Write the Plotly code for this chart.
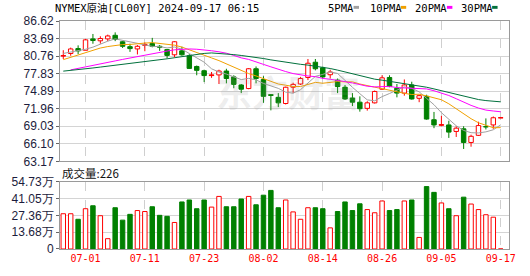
import plotly.graph_objects as go

# ---------------- data ----------------
dates = [
    "06-26", "06-27", "06-28",
    "07-01", "07-02", "07-03", "07-04", "07-05", "07-08", "07-09", "07-10", "07-11",
    "07-12", "07-15", "07-16", "07-17", "07-18", "07-19", "07-22", "07-23", "07-24",
    "07-25", "07-26", "07-29", "07-30", "07-31",
    "08-01", "08-02", "08-05", "08-06", "08-07", "08-08", "08-09", "08-12", "08-13",
    "08-14", "08-15", "08-16", "08-19", "08-20", "08-21", "08-22", "08-23", "08-26",
    "08-27", "08-28", "08-29", "08-30",
    "09-02", "09-03", "09-04", "09-05", "09-06", "09-09", "09-10", "09-11", "09-12",
    "09-13", "09-16", "09-17",
]
open_ = [80.78, 81.19, 82.01, 81.73, 83.63, 83.31, 83.63, 84.23, 83.15, 82.33,
         81.95, 82.55, 82.87, 82.39, 81.84, 80.97, 81.63, 80.81, 79.02, 78.31,
         77.50, 77.61, 78.26, 77.28, 75.93, 75.33, 78.64, 76.85, 74.30, 73.86,
         72.83, 75.55, 76.09, 77.18, 79.73, 78.80, 77.64, 76.74, 75.55, 73.75,
         73.05, 72.02, 72.94, 75.22, 77.18, 75.38, 74.57, 75.93, 73.70, 74.03,
         70.12, 69.20, 69.25, 68.16, 68.60, 66.32, 67.51, 68.95, 69.25, 70.45]
high = [81.74, 82.17, 82.55, 83.63, 84.45, 84.07, 84.34, 84.72, 83.25, 82.82,
        82.60, 83.04, 83.80, 82.60, 81.95, 83.25, 82.33, 81.08, 79.18, 78.48,
        78.10, 78.48, 78.64, 77.55, 76.09, 78.75, 79.02, 77.39, 74.41, 74.57,
        75.65, 76.31, 77.28, 80.27, 80.27, 79.02, 78.48, 77.01, 75.93, 74.57,
        74.03, 73.21, 75.00, 77.55, 77.55, 76.09, 76.85, 76.47, 74.30, 74.30,
        71.42, 70.77, 69.95, 69.03, 69.03, 67.62, 69.79, 70.34, 70.66, 70.45]
low = [80.27, 80.81, 81.08, 81.73, 82.82, 82.82, 83.25, 83.25, 82.11, 81.46,
       81.03, 81.57, 82.22, 81.63, 80.38, 80.54, 80.81, 78.64, 77.55, 76.41,
       77.12, 76.09, 76.20, 75.38, 74.57, 75.22, 76.20, 72.94, 71.69, 72.23,
       72.67, 74.57, 75.93, 76.74, 78.37, 77.01, 77.01, 74.57, 73.42, 72.40,
       71.47, 71.64, 72.83, 75.11, 75.55, 73.86, 74.14, 73.48, 73.05, 70.12,
       68.71, 69.03, 67.08, 67.24, 65.23, 65.61, 67.40, 68.49, 68.60, 70.45]
close = [80.83, 81.95, 81.63, 83.47, 83.36, 83.69, 84.12, 83.53, 82.39, 82.01,
         82.39, 82.71, 82.39, 82.22, 80.87, 83.15, 80.97, 78.70, 78.37, 77.50,
         77.61, 78.26, 77.01, 76.03, 75.22, 78.64, 77.01, 74.03, 74.19, 72.94,
         75.55, 76.03, 77.01, 79.56, 78.64, 77.28, 78.10, 75.66, 73.59, 73.05,
         71.96, 72.94, 74.84, 77.12, 75.66, 74.57, 75.93, 73.59, 74.14, 70.23,
         69.25, 69.30, 68.05, 68.71, 66.32, 67.35, 69.14, 68.95, 70.45, 70.45]
volume_wan = [28.7, 28.7, 24.2, 32.8, 35.2, 27.1, 8.4, 33.6, 23.5, 28.2,
              31.3, 30.5, 34.4, 27.4, 26.6, 21.6, 38.3, 39.9, 32.8, 39.9,
              34.1, 42.8, 34.4, 34.4, 40.7, 42.8, 36.0, 43.8, 47.7, 33.6,
              39.9, 30.2, 24.2, 33.6, 33.6, 32.8, 17.2, 30.5, 38.3, 31.3,
              36.8, 32.1, 29.5, 39.1, 31.3, 32.1, 39.1, 39.9, 9.4, 50.8,
              46.1, 37.5, 32.8, 27.1, 42.2, 36.6, 32.1, 27.9, 25.9, 0.0226]
ma5 = [81.20, 81.40, 81.60, 81.90, 82.25, 82.82, 83.25, 83.63, 83.42, 83.15,
       82.89, 82.61, 82.38, 82.34, 82.12, 82.27, 81.92, 81.18, 80.41, 79.74,
       78.63, 78.09, 77.75, 77.28, 76.83, 77.03, 76.78, 76.19, 75.82, 75.36,
       74.74, 74.55, 75.14, 76.22, 77.36, 77.70, 78.12, 77.85, 76.65, 75.54,
       74.47, 73.44, 73.28, 73.98, 74.50, 75.03, 75.62, 75.37, 74.78, 73.69,
       72.63, 71.30, 70.19, 69.11, 68.33, 67.95, 67.91, 68.09, 68.44, 69.27]
ma10 = [80.16, 80.55, 80.95, 81.45, 81.75, 82.10, 82.35, 82.55, 82.68, 82.70,
        82.85, 82.93, 83.01, 82.88, 82.63, 82.58, 82.26, 81.78, 81.38, 80.93,
        80.45, 80.00, 79.47, 78.85, 78.28, 77.83, 77.44, 76.97, 76.55, 76.09,
        75.89, 75.67, 75.67, 76.02, 76.36, 76.22, 76.33, 76.50, 76.44, 76.45,
        76.09, 75.78, 75.56, 75.32, 75.02, 74.75, 74.53, 74.33, 74.38, 74.10,
        73.83, 73.46, 72.78, 71.94, 71.01, 70.29, 69.61, 69.14, 68.78, 68.80]
ma20 = [None, 78.45, 78.72, 78.98, 79.22, 79.45, 79.68, 79.95, 80.20, 80.45,
        80.70, 80.95, 81.18, 81.40, 81.60, 81.80, 81.92, 81.95, 81.90, 81.81,
        81.65, 81.47, 81.24, 80.86, 80.46, 80.20, 79.85, 79.37, 78.96, 78.51,
        78.17, 77.83, 77.57, 77.43, 77.32, 77.03, 76.88, 76.73, 76.49, 76.27,
        75.99, 75.72, 75.61, 75.67, 75.69, 75.49, 75.43, 75.41, 75.41, 75.27,
        74.96, 74.62, 74.17, 73.63, 73.01, 72.52, 72.07, 71.73, 71.58, 71.45]
ma30 = [78.24, 78.35, 78.48, 78.62, 78.77, 78.92, 79.06, 79.20, 79.34, 79.48,
        79.62, 79.78, 79.95, 80.12, 80.30, 80.48, 80.66, 80.86, 81.05, 81.20,
        81.28, 81.22, 81.12, 81.00, 80.86, 80.72, 80.55, 80.35, 80.12, 79.91,
        79.73, 79.53, 79.38, 79.25, 79.09, 78.88, 78.68, 78.41, 78.12, 77.82,
        77.48, 77.15, 76.90, 76.73, 76.55, 76.27, 76.10, 75.93, 75.79, 75.55,
        75.27, 74.97, 74.67, 74.43, 74.13, 73.75, 73.49, 73.32, 73.20, 73.11]

price_ticks = [63.17, 66.10, 69.03, 71.96, 74.89, 77.83, 80.76, 83.69, 86.62]
price_tick_text = ["63.17", "66.10", "69.03", "71.96", "74.89", "77.83", "80.76", "83.69", "86.62"]
vol_ticks = [0, 13.68, 27.36, 41.05, 54.73]
vol_tick_text = ["0", "13.68万", "27.36万", "41.05万", "54.73万"]
date_tick_idx = [3, 11, 19, 27, 35, 43, 51, 59]

title_text = "NYMEX原油[CL00Y] 2024-09-17 06:15"
vol_label = "成交量:226"
watermark = "东方财富"
ma_names = ["5PMA", "10PMA", "20PMA", "30PMA"]
ma_series = [ma5, ma10, ma20, ma30]

# ---------------- styles ----------------
RED = "#ff0000"
GREEN = "#008000"
MA_COLORS = ["#a0a0a0", "#f0a000", "#ff00ff", "#00703c"]
GRID = "#d4d4d4"
FRAME = "#9a9a9a"
AXFONT = dict(family="Liberation Sans, Arial", size=12, color="#1c1c3c")
MONO = "DejaVu Sans Mono, Liberation Mono, Noto Sans CJK SC"

W, H = 530, 276
L, R, T, B = 57, 21, 21, 21
PW, PH = W - L - R, H - T - B


def pxx(x):
    return (x - L) / PW


def pxy(y):
    return (H - B - y) / PH


n = len(close)
xs = list(range(n))


def candle_up(i):
    if close[i] > open_[i]:
        return True
    if close[i] < open_[i]:
        return False
    return i == 0 or close[i] >= close[i - 1]


up = [candle_up(i) for i in xs]
vol_up = [close[i] >= open_[i] for i in xs]

fig = go.Figure()

# candle wicks (split so they do not cross hollow bodies)
for want_up, col in [(True, RED), (False, GREEN)]:
    wx, wy = [], []
    for i in xs:
        if up[i] != want_up:
            continue
        top = max(open_[i], close[i])
        bot = min(open_[i], close[i])
        if high[i] > top:
            wx += [i, i, None]
            wy += [top, high[i], None]
        if low[i] < bot:
            wx += [i, i, None]
            wy += [bot, low[i], None]
    fig.add_trace(go.Scatter(x=wx, y=wy, mode="lines", line=dict(color=col, width=1),
                             hoverinfo="skip", xaxis="x", yaxis="y"))

# candle bodies
fig.add_trace(go.Bar(
    x=xs, y=[abs(close[i] - open_[i]) for i in xs],
    base=[min(open_[i], close[i]) for i in xs], width=0.6,
    marker=dict(color=["white" if u else GREEN for u in up],
                line=dict(color=[RED if u else GREEN for u in up], width=1)),
    xaxis="x", yaxis="y", hoverinfo="skip"))

# flat bodies (doji) drawn as short dashes
for want_up, col in [(True, RED), (False, GREEN)]:
    dx, dy = [], []
    for i in xs:
        if up[i] == want_up and abs(close[i] - open_[i]) < 0.12:
            m = (close[i] + open_[i]) / 2
            dx += [i - 0.33, i + 0.33, None]
            dy += [m, m, None]
    fig.add_trace(go.Scatter(x=dx, y=dy, mode="lines", line=dict(color=col, width=1),
                             hoverinfo="skip", xaxis="x", yaxis="y"))

# moving averages
for name, series, col in zip(ma_names, ma_series, MA_COLORS):
    fig.add_trace(go.Scatter(x=xs, y=series, mode="lines", name=name,
                             line=dict(color=col, width=1), connectgaps=False,
                             hoverinfo="skip", xaxis="x", yaxis="y"))

# volume
fig.add_trace(go.Bar(
    x=xs, y=volume_wan, width=0.6,
    marker=dict(color=["white" if u else GREEN for u in vol_up],
                line=dict(color=[RED if u else GREEN for u in vol_up], width=1)),
    xaxis="x2", yaxis="y2", hoverinfo="skip"))

x_range = [-0.442, 60.117]
common_x = dict(range=x_range, tickmode="array", tickvals=date_tick_idx,
                ticktext=[dates[i] for i in date_tick_idx],
                showgrid=True, gridcolor="#cfcfcf", griddash="dash", gridwidth=1,
                showline=True, mirror=True, linecolor=FRAME, linewidth=1,
                zeroline=False, ticks="", fixedrange=True)
common_y = dict(showgrid=True, gridcolor=GRID, gridwidth=1, showline=True, mirror=True,
                linecolor=FRAME, linewidth=1, zeroline=False, ticks="outside",
                ticklen=3, tickcolor="#666666", tickfont=AXFONT, tickmode="array",
                fixedrange=True)

fig.update_layout(
    width=W, height=H, margin=dict(l=L, r=R, t=T, b=B, pad=0),
    paper_bgcolor="white", plot_bgcolor="white", showlegend=False,
    barmode="overlay",
    xaxis=dict(domain=[0, 1], anchor="y", showticklabels=False, **common_x),
    xaxis2=dict(domain=[0, 1], anchor="y2", matches="x", showticklabels=True,
                tickfont=dict(family=MONO, size=10, color=RED), **common_x),
    yaxis=dict(domain=[pxy(165), 1], range=[price_ticks[0], price_ticks[-1]],
               tickvals=price_ticks, ticktext=price_tick_text, **common_y),
    yaxis2=dict(domain=[0, pxy(186)], range=[vol_ticks[0], vol_ticks[-1]],
                tickvals=vol_ticks, ticktext=vol_tick_text, **common_y),
)

ann = []
# watermark
ann.append(dict(text="<b>" + watermark + "</b>", x=pxx(287), y=pxy(93),
                xref="paper", yref="paper", xanchor="center", yanchor="middle",
                showarrow=False, font=dict(family="Noto Sans CJK SC", size=36,
                                           color="rgba(150,150,150,0.16)")))
# title
ann.append(dict(text=title_text, x=pxx(50), y=pxy(8), xref="paper", yref="paper",
                xanchor="left", yanchor="middle", showarrow=False,
                font=dict(family=MONO, size=10.5, color="#000000")))
# legend
legend_text_x = [325, 367, 412, 459]
legend_box_x = [352.5, 400, 446.5, 492]
shapes = []
for name, col, tx, bx in zip(ma_names, MA_COLORS, legend_text_x, legend_box_x):
    ann.append(dict(text=name, x=pxx(tx), y=pxy(8), xref="paper", yref="paper",
                    xanchor="left", yanchor="middle", showarrow=False,
                    font=dict(family=MONO, size=10.5, color="#000000")))
    shapes.append(dict(type="rect", xref="paper", yref="paper",
                       x0=pxx(bx), x1=pxx(bx + 5.5), y0=pxy(8.5), y1=pxy(5.5),
                       fillcolor=col, line=dict(width=0)))
# volume label
ann.append(dict(text=vol_label, x=pxx(57), y=pxy(176.5), xref="paper", yref="paper",
                xanchor="left", yanchor="middle", showarrow=False,
                font=dict(family="Noto Sans CJK SC", size=11.5, color="#111111")))

fig.update_layout(annotations=ann, shapes=shapes)

fig.write_html("out.html")
